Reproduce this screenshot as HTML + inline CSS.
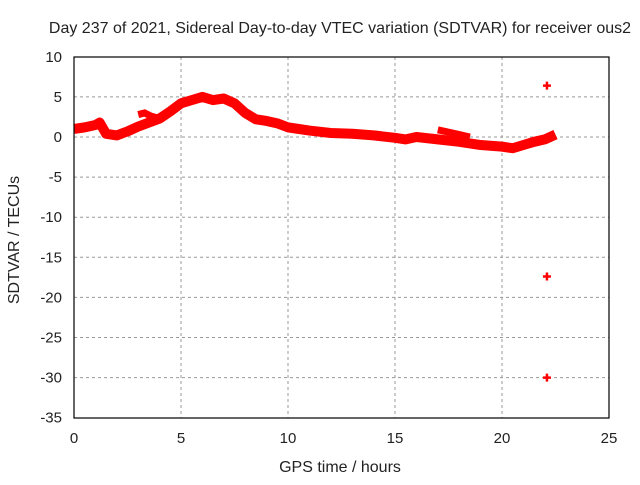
<!DOCTYPE html>
<html><head><meta charset="utf-8"><style>
body{margin:0;background:#fff}
svg text{font-family:"Liberation Sans",sans-serif;font-size:15px;fill:#222}
svg text.big{font-size:16px}
</style></head><body>
<svg width="640" height="480">
<rect width="640" height="480" fill="#fff"/>
<g id="grid"></g>
<g id="ticks"></g>
<g id="series"></g>
<rect x="74" y="57" width="535" height="361" fill="none" stroke="#000" stroke-width="1.2"/>
<text class="big" x="340" y="33" text-anchor="middle">Day 237 of 2021, Sidereal Day-to-day VTEC variation (SDTVAR) for receiver ous2</text>
<text class="big" x="340" y="472" text-anchor="middle">GPS time / hours</text>
<text class="big" transform="translate(19,240) rotate(-90)" text-anchor="middle">SDTVAR / TECUs</text>
</svg>
<script>
const xTicks=[0,5,10,15,20,25];
const yTicks=[10,5,0,-5,-10,-15,-20,-25,-30,-35];
const hours=[0,0.5,1,1.2,1.5,2,2.5,3,3.5,4,4.5,5,5.5,6,6.5,7,7.5,8,8.5,9,9.5,10,11,12,13,14,15,15.5,16,17,18,19,20,20.5,21,21.5,22,22.5];
const sdtvar=[1,1.2,1.5,1.8,0.4,0.2,0.7,1.3,1.8,2.3,3.2,4.2,4.6,5,4.6,4.8,4.2,3,2.2,2,1.7,1.2,0.8,0.5,0.4,0.2,-0.1,-0.3,0,-0.3,-0.6,-1,-1.2,-1.4,-1,-0.6,-0.3,0.3];
const branchHours=[3,3.3,3.6,4,17,17.5,18,18.5];
const branchVals=[2.8,3,2.6,2.3,0.9,0.6,0.3,0];
const outlierHours=[22.1,22.1,22.1];
const outlierVals=[6.4,-17.4,-30];
const X=v=>74+v*21.4, Y=v=>137-v*8.02;
const NS='http://www.w3.org/2000/svg';
function mk(t,a,p){const e=document.createElementNS(NS,t);for(const k in a)e.setAttribute(k,a[k]);p.appendChild(e);return e;}
const g=document.getElementById('grid'),tk=document.getElementById('ticks'),s=document.getElementById('series');
xTicks.forEach(v=>{
 if(v>0&&v<25){const l=mk('line',{x1:X(v),x2:X(v),y1:57,y2:418,stroke:'#999','stroke-dasharray':'3,3'},g);
 
 }
 const t=mk('text',{x:X(v),y:443,'text-anchor':'middle'},tk);t.textContent=v;
 
 
});
yTicks.forEach(v=>{
 if(v<10&&v>-35){const l=mk('line',{x1:74,x2:609,y1:Y(v),y2:Y(v),stroke:'#999','stroke-dasharray':'3,3'},g);
 
 }
 const t=mk('text',{x:62,y:Y(v)+5,'text-anchor':'end'},tk);t.textContent=v;
 
 
});
const pts=hours.map((h,i)=>X(h)+','+Y(sdtvar[i])).join(' ');
const pl=mk('polyline',{points:pts,fill:'none',stroke:'#f00','stroke-width':10,'stroke-linejoin':'round'},s);


for(let i=0;i<branchHours.length;i+=4){
 const p=branchHours.slice(i,i+4).map((h,j)=>X(h)+','+Y(branchVals[i+j])).join(' ');
 const b=mk('polyline',{points:p,fill:'none',stroke:'#f00','stroke-width':7},s);
 
 
}
outlierHours.forEach((h,i)=>{
 const c=mk('path',{d:`M${X(h)-4},${Y(outlierVals[i])}h8M${X(h)},${Y(outlierVals[i])-4}v8`,stroke:'#f00','stroke-width':2.5},s);
 
 
});
</script>
</body></html>
